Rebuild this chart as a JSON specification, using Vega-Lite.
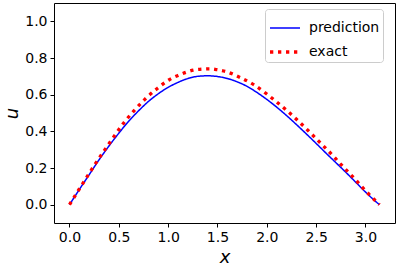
{
  "$schema": "https://vega.github.io/schema/vega-lite/v6.json",
  "width": 341,
  "height": 220,
  "autosize": {"type": "none"},
  "padding": {"left": 54, "top": 3, "right": 4, "bottom": 45},
  "background": "white",
  "config": {
    "view": {"stroke": "black", "strokeWidth": 1},
    "font": "DejaVu Sans",
    "axis": {
      "domain": false,
      "grid": false,
      "tickColor": "black",
      "tickSize": 4,
      "tickWidth": 1,
      "labelColor": "black",
      "labelFontSize": 14,
      "labelFont": "DejaVu Sans",
      "titleColor": "black",
      "titleFont": "DejaVu Sans",
      "titleFontStyle": "italic",
      "titleFontWeight": "normal",
      "titleFontSize": 18
    }
  },
  "data": {
    "values": [
      {"x": 0.0, "u": 0.0, "series": "prediction"},
      {"x": 0.1, "u": 0.083, "series": "prediction"},
      {"x": 0.2, "u": 0.164, "series": "prediction"},
      {"x": 0.3, "u": 0.245, "series": "prediction"},
      {"x": 0.4, "u": 0.32, "series": "prediction"},
      {"x": 0.5, "u": 0.39, "series": "prediction"},
      {"x": 0.6, "u": 0.455, "series": "prediction"},
      {"x": 0.7, "u": 0.512, "series": "prediction"},
      {"x": 0.8, "u": 0.563, "series": "prediction"},
      {"x": 0.9, "u": 0.605, "series": "prediction"},
      {"x": 1.0, "u": 0.64, "series": "prediction"},
      {"x": 1.1, "u": 0.667, "series": "prediction"},
      {"x": 1.2, "u": 0.688, "series": "prediction"},
      {"x": 1.3, "u": 0.7, "series": "prediction"},
      {"x": 1.4, "u": 0.703, "series": "prediction"},
      {"x": 1.5, "u": 0.699, "series": "prediction"},
      {"x": 1.6, "u": 0.688, "series": "prediction"},
      {"x": 1.7, "u": 0.67, "series": "prediction"},
      {"x": 1.8, "u": 0.645, "series": "prediction"},
      {"x": 1.9, "u": 0.612, "series": "prediction"},
      {"x": 2.0, "u": 0.574, "series": "prediction"},
      {"x": 2.1, "u": 0.532, "series": "prediction"},
      {"x": 2.2, "u": 0.486, "series": "prediction"},
      {"x": 2.3, "u": 0.437, "series": "prediction"},
      {"x": 2.4, "u": 0.386, "series": "prediction"},
      {"x": 2.5, "u": 0.334, "series": "prediction"},
      {"x": 2.6, "u": 0.281, "series": "prediction"},
      {"x": 2.7, "u": 0.229, "series": "prediction"},
      {"x": 2.8, "u": 0.177, "series": "prediction"},
      {"x": 2.9, "u": 0.123, "series": "prediction"},
      {"x": 3.0, "u": 0.069, "series": "prediction"},
      {"x": 3.1, "u": 0.019, "series": "prediction"},
      {"x": 3.1416, "u": 0.0, "series": "prediction"},
      {"x": 0.0, "u": 0.0, "series": "exact"},
      {"x": 0.093, "u": 0.08, "series": "exact"},
      {"x": 0.18, "u": 0.154, "series": "exact"},
      {"x": 0.268, "u": 0.228, "series": "exact"},
      {"x": 0.359, "u": 0.3, "series": "exact"},
      {"x": 0.453, "u": 0.373, "series": "exact"},
      {"x": 0.55, "u": 0.446, "series": "exact"},
      {"x": 0.655, "u": 0.513, "series": "exact"},
      {"x": 0.766, "u": 0.576, "series": "exact"},
      {"x": 0.89, "u": 0.634, "series": "exact"},
      {"x": 1.015, "u": 0.683, "series": "exact"},
      {"x": 1.1, "u": 0.705, "series": "exact"},
      {"x": 1.18, "u": 0.722, "series": "exact"},
      {"x": 1.254, "u": 0.734, "series": "exact"},
      {"x": 1.335, "u": 0.739, "series": "exact"},
      {"x": 1.416, "u": 0.741, "series": "exact"},
      {"x": 1.497, "u": 0.736, "series": "exact"},
      {"x": 1.578, "u": 0.727, "series": "exact"},
      {"x": 1.729, "u": 0.694, "series": "exact"},
      {"x": 1.874, "u": 0.652, "series": "exact"},
      {"x": 2.008, "u": 0.6, "series": "exact"},
      {"x": 2.073, "u": 0.572, "series": "exact"},
      {"x": 2.197, "u": 0.516, "series": "exact"},
      {"x": 2.318, "u": 0.457, "series": "exact"},
      {"x": 2.432, "u": 0.397, "series": "exact"},
      {"x": 2.55, "u": 0.333, "series": "exact"},
      {"x": 2.665, "u": 0.27, "series": "exact"},
      {"x": 2.776, "u": 0.205, "series": "exact"},
      {"x": 2.89, "u": 0.141, "series": "exact"},
      {"x": 3.0, "u": 0.076, "series": "exact"},
      {"x": 3.1416, "u": 0.0, "series": "exact"}
    ]
  },
  "mark": {"type": "line", "interpolate": "monotone", "clip": true},
  "encoding": {
    "x": {
      "field": "x", "type": "quantitative",
      "scale": {"domain": [-0.157, 3.299], "nice": false, "zero": false},
      "axis": {"values": [0, 0.5, 1, 1.5, 2, 2.5, 3], "format": ".1f", "title": "x", "titlePadding": 4, "labelPadding": 3}
    },
    "y": {
      "field": "u", "type": "quantitative",
      "scale": {"domain": [-0.1, 1.1], "nice": false, "zero": false},
      "axis": {"values": [0, 0.2, 0.4, 0.6, 0.8, 1.0], "format": ".1f", "title": "u", "titlePadding": 3, "labelPadding": 3}
    },
    "order": {"field": "x", "type": "quantitative"},
    "color": {
      "field": "series", "type": "nominal",
      "scale": {"domain": ["prediction", "exact"], "range": ["#0000ff", "#ff0000"]},
      "legend": {
        "title": null,
        "orient": "none",
        "legendX": 211,
        "legendY": 6,
        "symbolType": "stroke",
        "symbolSize": 900,
        "labelFontSize": 14,
        "labelColor": "black",
        "labelOffset": 7,
        "rowPadding": -20,
        "padding": 3,
        "strokeColor": "#cccccc",
        "fillColor": "white",
        "cornerRadius": 3
      }
    },
    "strokeDash": {
      "field": "series", "type": "nominal",
      "scale": {"domain": ["prediction", "exact"], "range": [[1, 0], [3.3, 4.7]]},
      "legend": null
    },
    "strokeWidth": {
      "field": "series", "type": "nominal",
      "scale": {"domain": ["prediction", "exact"], "range": [1.5, 3.3]},
      "legend": null
    }
  }
}
